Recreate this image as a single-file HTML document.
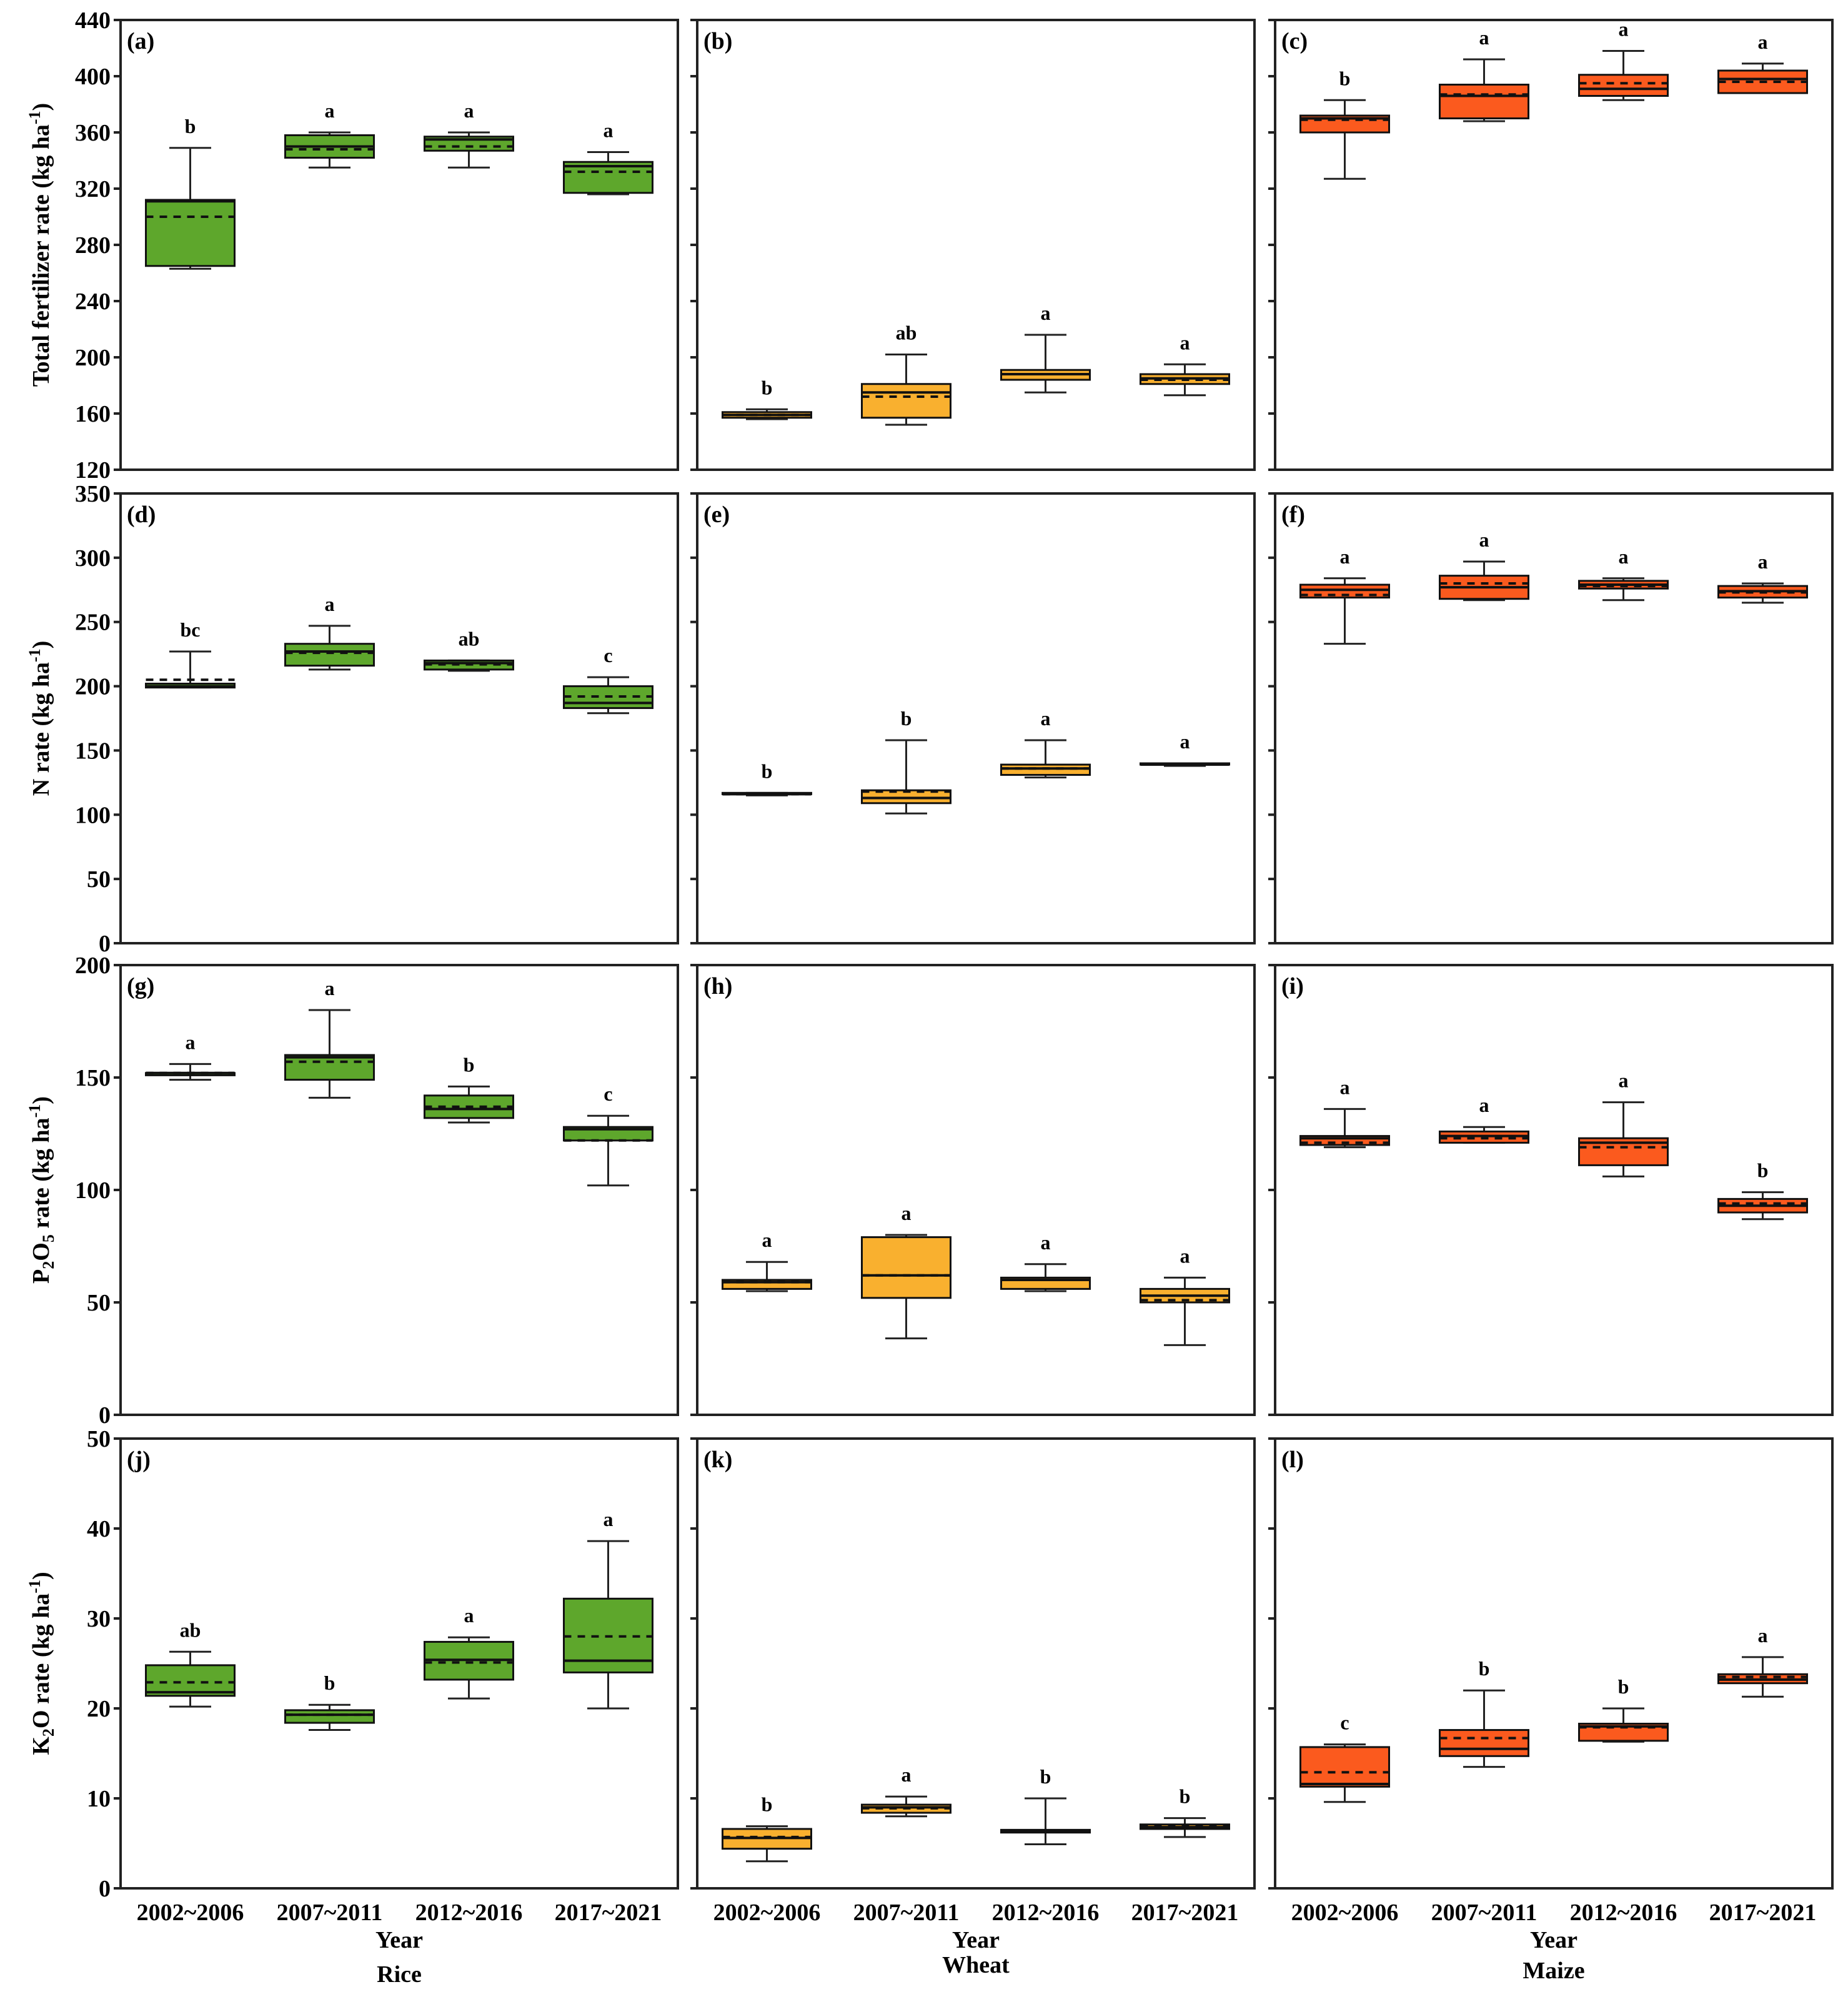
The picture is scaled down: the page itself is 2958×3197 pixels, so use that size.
<!DOCTYPE html>
<html><head><meta charset="utf-8">
<style>
html,body{margin:0;padding:0;background:#fff;}
svg{display:block;font-family:"Liberation Serif",serif;font-weight:bold;}
</style></head>
<body>
<svg id="chart" xmlns="http://www.w3.org/2000/svg" width="2958" height="3197" viewBox="0 0 2958 3197"></svg>
<script>
const categories = ["2002~2006","2007~2011","2012~2016","2017~2021"];
const panelLabels = ["(a)","(b)","(c)","(d)","(e)","(f)","(g)","(h)","(i)","(j)","(k)","(l)"];
const crops = ["Rice","Wheat","Maize"];
const rowTitles = ["Total fertilizer rate (kg ha", "N rate (kg ha", "P2O5 rate (kg ha", "K2O rate (kg ha"];
const rowMin = [120, 0, 0, 0];
const rowMax = [440, 350, 200, 50];
const rowTicks = [[120,160,200,240,280,320,360,400,440],[0,50,100,150,200,250,300,350],[0,50,100,150,200],[0,10,20,30,40,50]];
// per-panel (a..l), per-category stats
const whiskerLow = [[263,335,335,316],[156,152,175,173],[327,368,383,388],
  [199,213,212,179],[115,101,129,138],[233,267,267,265],
  [149,141,130,102],[55,34,55,31],[119,121,106,87],
  [20.2,17.6,21.1,20.0],[3.0,8.0,4.9,5.7],[9.6,13.5,16.3,21.3]];
const q1 = [[265,342,347,317],[157,157,184,181],[360,370,386,388],
  [199,216,213,183],[116,109,131,139],[269,268,276,269],
  [151,149,132,122],[56,52,56,50],[120,121,111,90],
  [21.4,18.4,23.2,24.0],[4.4,8.4,6.2,6.6],[11.3,14.7,16.4,22.8]];
const medians = [[311,350,355,336],[159,175,188,185],[370,386,391,398],
  [200,227,218,187],[116,113,136,139],[275,277,279,274],
  [152,159,136,127],[59,62,60,53],[123,124,121,93],
  [21.8,19.3,25.4,25.3],[5.6,9.0,6.3,6.8],[11.6,15.5,18.0,23.2]];
const means = [[300,348,350,332],[159,172,188,184],[369,387,395,396],
  [205,226,217,192],[116,118,136,139],[271,280,278,273],
  [152,157,137,122],[59,62,60,51],[121,123,119,94],
  [22.9,19.3,25.1,28.0],[5.7,8.9,6.4,6.9],[12.9,16.7,17.9,23.5]];
const q3 = [[312,358,357,339],[161,181,191,188],[372,394,401,404],
  [202,233,220,200],[117,119,139,140],[279,286,282,278],
  [152,160,142,128],[60,79,61,56],[124,126,123,96],
  [24.8,19.8,27.4,32.2],[6.6,9.3,6.5,7.1],[15.7,17.6,18.3,23.8]];
const whiskerHigh = [[349,360,360,346],[163,202,216,195],[383,412,418,409],
  [227,247,220,207],[117,158,158,140],[284,297,284,280],
  [156,180,146,133],[68,80,67,61],[136,128,139,99],
  [26.3,20.4,27.9,38.6],[6.9,10.2,10.0,7.8],[16.0,22.0,20.0,25.7]];
const sigLetters = [["b","a","a","a"],["b","ab","a","a"],["b","a","a","a"],
  ["bc","a","ab","c"],["b","b","a","a"],["a","a","a","a"],
  ["a","a","b","c"],["a","a","a","a"],["a","a","a","b"],
  ["ab","b","a","a"],["b","a","b","b"],["c","b","b","a"]];

const svg = document.getElementById('chart');
const NS = "http://www.w3.org/2000/svg";
const colLeft = [193, 1116, 2041];
const panelW = 892;
const rowTop = [32, 790, 1545, 2303];
const panelH = 720;
const fills = ["#5ea72c", "#f9b02f", "#fb5a1e"];

function mk(tag, attrs, parent) {
  const e = document.createElementNS(NS, tag);
  for (const k in attrs) e.setAttribute(k, attrs[k]);
  (parent || svg).appendChild(e);
  return e;
}
function yScale(r, v) { return rowTop[r] + panelH - (v - rowMin[r]) / (rowMax[r] - rowMin[r]) * panelH; }
function xScale(c, i) { return colLeft[c] + (i + 0.5) / 4 * panelW; }

for (let r = 0; r < 4; r++) {
  for (let c = 0; c < 3; c++) {
    const p = r * 3 + c;
    const g = mk('g', {});
    
    
    const frame = mk('rect', {x: colLeft[c], y: rowTop[r], width: panelW, height: panelH, fill: 'none', stroke: '#222', 'stroke-width': 4}, g);
    
    
    rowTicks[r].forEach(t => {
      const y = yScale(r, t);
      const tk = mk('line', {x1: colLeft[c] - 11, x2: colLeft[c], y1: y, y2: y, stroke: '#222', 'stroke-width': 4}, g);
      
      
      if (c === 0) {
        const tl = mk('text', {x: colLeft[c] - 16, y: y + 13, 'text-anchor': 'end', 'font-size': 38}, g);
        tl.textContent = t;
        
        
      }
    });
    const pl = mk('text', {x: colLeft[c] + 10, y: rowTop[r] + 46, 'font-size': 38}, g);
    pl.textContent = panelLabels[p];
    
    
    for (let i = 0; i < 4; i++) {
      const cx = xScale(c, i);
      const bw = 142, cw = 67;
      const bg = mk('g', {}, g);
      
      
      const yl = yScale(r, whiskerLow[p][i]), yh = yScale(r, whiskerHigh[p][i]);
      const y1 = yScale(r, q1[p][i]), y3 = yScale(r, q3[p][i]);
      mk('line', {x1: cx, x2: cx, y1: yh, y2: y3, stroke: '#222', 'stroke-width': 3}, bg);
      mk('line', {x1: cx, x2: cx, y1: y1, y2: yl, stroke: '#222', 'stroke-width': 3}, bg);
      mk('line', {x1: cx - cw/2, x2: cx + cw/2, y1: yh, y2: yh, stroke: '#222', 'stroke-width': 3}, bg);
      mk('line', {x1: cx - cw/2, x2: cx + cw/2, y1: yl, y2: yl, stroke: '#222', 'stroke-width': 3}, bg);
      mk('rect', {x: cx - bw/2, y: Math.min(y1, y3), width: bw, height: Math.max(2, Math.abs(y1 - y3)), fill: fills[c], stroke: '#111', 'stroke-width': 3}, bg);
      const ym = yScale(r, medians[p][i]);
      mk('line', {x1: cx - bw/2, x2: cx + bw/2, y1: ym, y2: ym, stroke: '#111', 'stroke-width': 4}, bg);
      const ya = yScale(r, means[p][i]);
      mk('line', {x1: cx - bw/2, x2: cx + bw/2, y1: ya, y2: ya, stroke: '#111', 'stroke-width': 4, 'stroke-dasharray': '12 10'}, bg);
      const lt = mk('text', {x: cx, y: yh - 24, 'text-anchor': 'middle', 'font-size': 32}, bg);
      lt.textContent = sigLetters[p][i];
      
      
    }
  }
  const ty = rowTop[r] + panelH / 2;
  const tt = mk('text', {x: 0, y: 0, transform: 'translate(78,' + ty + ') rotate(-90)', 'text-anchor': 'middle', 'font-size': 38});
  
  
  const base = rowTitles[r];
  if (r === 2) {
    tt.innerHTML = 'P<tspan font-size="26" dy="8">2</tspan><tspan dy="-8">O</tspan><tspan font-size="26" dy="8">5</tspan><tspan dy="-8"> rate (kg ha</tspan><tspan font-size="26" dy="-14">-1</tspan><tspan dy="14">)</tspan>';
  } else if (r === 3) {
    tt.innerHTML = 'K<tspan font-size="26" dy="8">2</tspan><tspan dy="-8">O rate (kg ha</tspan><tspan font-size="26" dy="-14">-1</tspan><tspan dy="14">)</tspan>';
  } else {
    tt.innerHTML = base + '<tspan font-size="26" dy="-14">-1</tspan><tspan dy="14">)</tspan>';
  }
}
for (let c = 0; c < 3; c++) {
  for (let i = 0; i < 4; i++) {
    const xl = mk('text', {x: xScale(c, i), y: 3074, 'text-anchor': 'middle', 'font-size': 38});
    xl.textContent = categories[i];
    
    
  }
  const cx = colLeft[c] + panelW / 2;
  const yr = mk('text', {x: cx, y: 3118, 'text-anchor': 'middle', 'font-size': 38});
  yr.textContent = 'Year';
  
  
  const cr = mk('text', {x: cx, y: [3173, 3158, 3167][c], 'text-anchor': 'middle', 'font-size': 38});
  cr.textContent = crops[c];
  
  
}
</script>
</body></html>
